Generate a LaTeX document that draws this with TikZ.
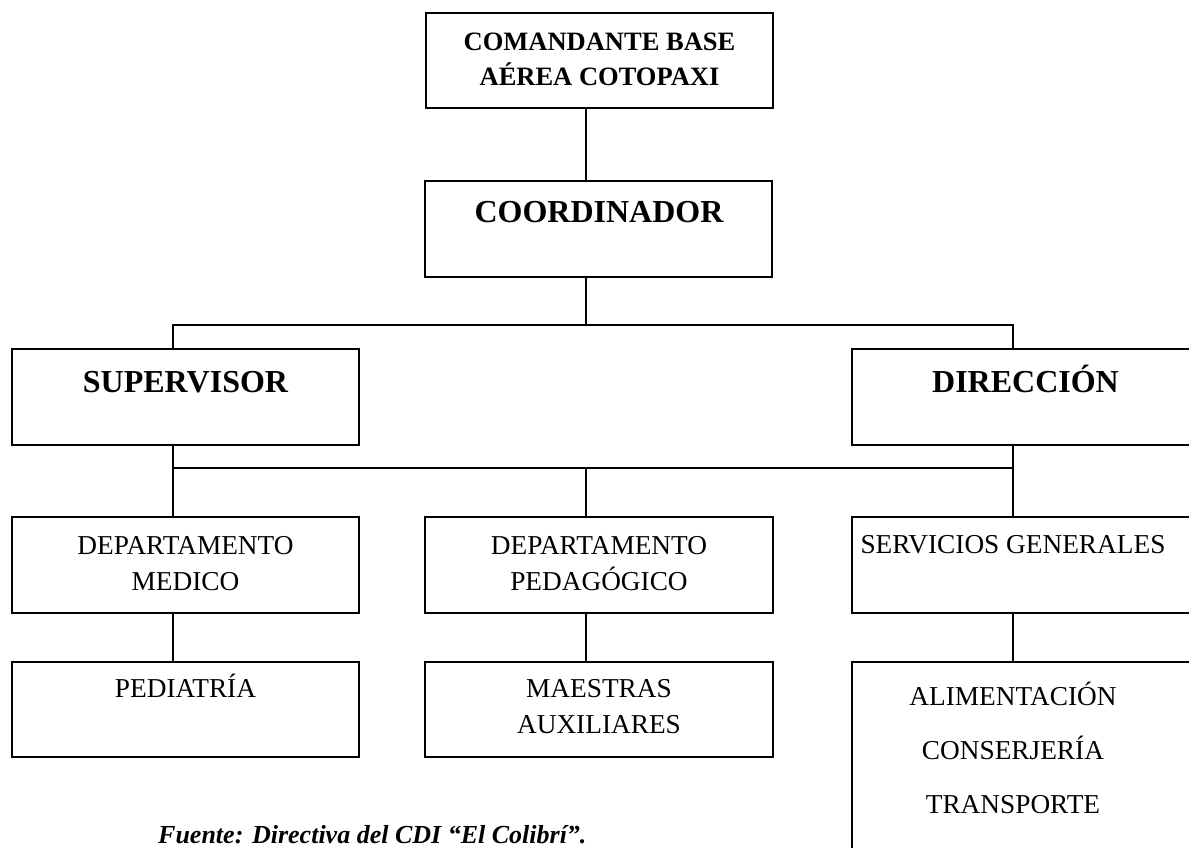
\documentclass[tikz,border=0pt]{standalone}
\usepackage{fontspec}
\setmainfont{Liberation Serif}
\begin{document}
\begin{tikzpicture}[x=1pt,y=-1pt,
  box/.style={draw, line width=1.6pt, inner sep=0pt, outer sep=0pt, anchor=north west,
              minimum width=347pt, minimum height=96pt},
  link/.style={line width=1.6pt},
  big/.style={font=\fontsize{32}{36}\selectfont\bfseries, anchor=base, inner sep=0pt},
  head/.style={font=\fontsize{26.5}{30}\selectfont\bfseries, anchor=base, inner sep=0pt},
  plain/.style={font=\fontsize{27.3}{31}\selectfont, anchor=base, inner sep=0pt},
  note/.style={font=\fontsize{26}{30}\selectfont\bfseries\itshape, anchor=base west, inner sep=0pt}]
\useasboundingbox (0,0) rectangle (1189,847);
\fill[white] (0,0) rectangle (1189,847);
\clip (0,0) rectangle (1189,847);

% boxes
\node[box, minimum height=95pt] (cmd)  at (426,13)  {};
\node[box] (coor) at (425,181) {};
\node[box] (sup)  at (12,349)  {};
\node[box] (dir)  at (852,349) {};
\node[box] (med)  at (12,517)  {};
\node[box, minimum width=348pt] (ped)  at (425,517) {};
\node[box] (serv) at (852,517) {};
\node[box, minimum height=95pt] (pedi) at (12,662)  {};
\node[box, minimum width=348pt, minimum height=95pt] (maes) at (425,662) {};
\node[box, minimum height=260pt] (alim) at (852,662) {};

% texts
\node[head] (cmdA) at (599.5,50) {COMANDANTE BASE};
\node[head] (cmdB) at (599.5,85) {AÉREA COTOPAXI};
\node[big] (coorT) at (599,222) {COORDINADOR};
\node[big] (supT) at (185.5,392) {SUPERVISOR};
\node[big] (dirT) at (1025.5,392) {DIRECCIÓN};
\node[plain] (medA) at (185.5,554) {DEPARTAMENTO};
\node[plain] (medB) at (185.5,590) {MEDICO};
\node[plain] (pedA) at (599,554) {DEPARTAMENTO};
\node[plain] (pedB) at (599,590) {PEDAGÓGICO};
\node[plain] (servT) at (1013,553) {SERVICIOS GENERALES};
\node[plain] (pediT) at (185.5,697) {PEDIATRÍA};
\node[plain] (maesA) at (599,697) {MAESTRAS};
\node[plain] (maesB) at (599,733) {AUXILIARES};
\node[plain] (alimA) at (1013,705) {ALIMENTACIÓN};
\node[plain] (alimB) at (1013,759) {CONSERJERÍA};
\node[plain] (alimC) at (1013,813) {TRANSPORTE};
\node[note] (src) at (158,843) {Fuente: Directiva del CDI “El Colibrí”.};

% junction points of the connector lines
\coordinate (ua) at (173,325);
\coordinate (um) at (586,325);
\coordinate (ub) at (1013,325);
\coordinate (la) at (173,468);
\coordinate (lm) at (586,468);
\coordinate (lb) at (1013,468);

% connectors
\draw[link] (um |- cmd.south) -- (um |- coor.north);
\draw[link] (um |- coor.south) -- (um);
\draw[link] (sup.north -| ua) -- (ua) -- (ub) -- (dir.north -| ub);
\draw[link] (sup.south -| la) -- (la) -- (lb) -- (dir.south -| lb);
\draw[link] (la) -- (med.north -| la);
\draw[link] (lm) -- (ped.north -| lm);
\draw[link] (lb) -- (serv.north -| lb);
\draw[link] (med.south -| la) -- (pedi.north -| la);
\draw[link] (ped.south -| lm) -- (maes.north -| lm);
\draw[link] (serv.south -| lb) -- (alim.north -| lb);
\end{tikzpicture}
\end{document}
